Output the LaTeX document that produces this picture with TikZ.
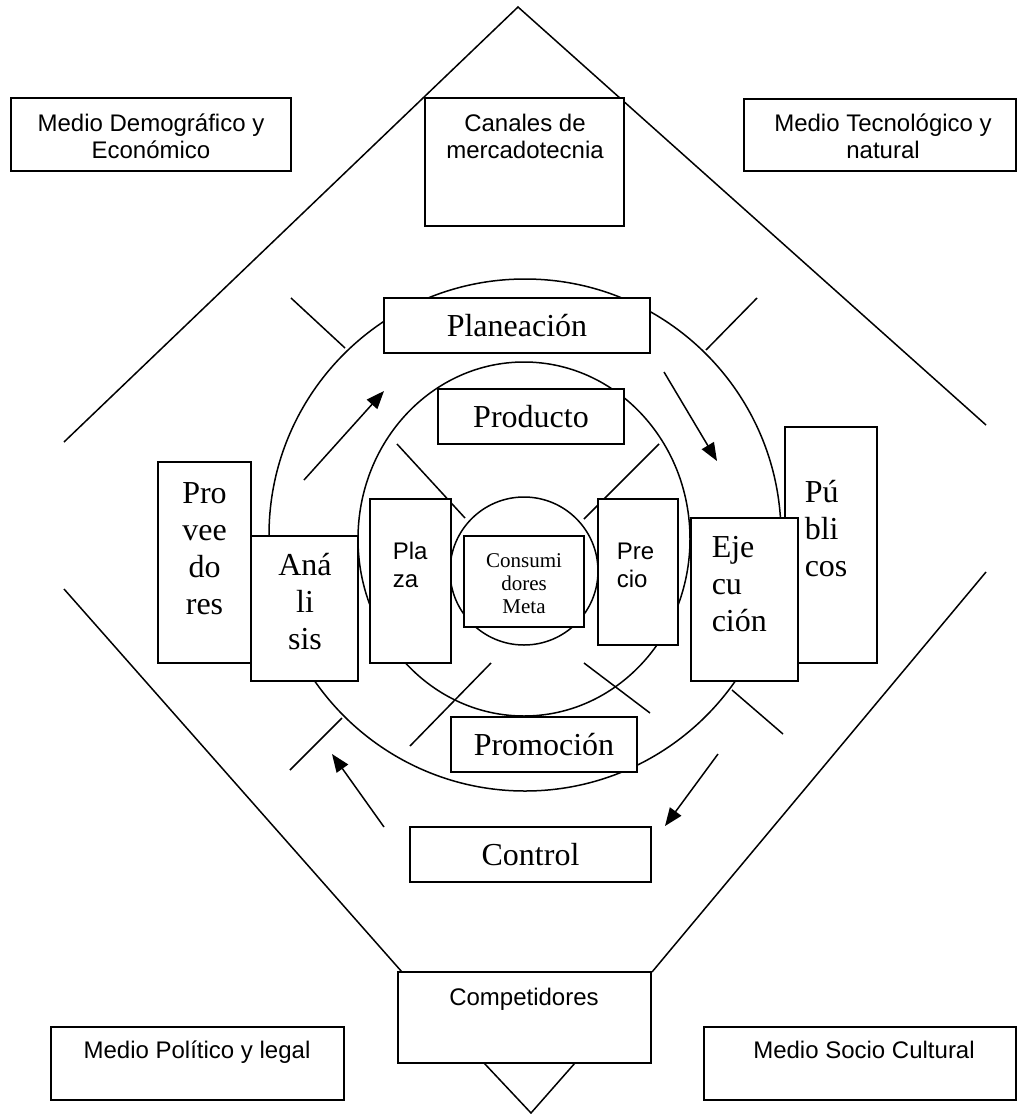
\documentclass[tikz,border=0pt]{standalone}
\usepackage{fontspec}
\setmainfont{Liberation Serif}
\newfontfamily\arial{Liberation Sans}
\usetikzlibrary{arrows.meta}

\begin{document}
\begin{tikzpicture}[x=1pt,y=-1pt,line width=1.5pt,
  caja/.style={draw,fill=white,inner sep=0pt},
  medio/.style={font=\arial\fontsize{24}{27}\selectfont,align=center,inner sep=0pt},
  mezcla/.style={font=\arial\fontsize{24}{28}\selectfont,align=left,inner sep=0pt},
  romana/.style={font=\fontsize{32}{37}\selectfont,align=center,inner sep=0pt},
  flecha/.style={-{Triangle[length=18pt,width=14pt]}}]
  \useasboundingbox (0,0) rectangle (1017,1114);
  % rombo exterior
  \draw (64,442) -- (518,7) -- (986,425);
  \draw (64,589) -- (402,972);
  \draw (986,572) -- (652,972);
  \draw (484,1063) -- (531,1113) -- (575,1063);
  % circulos
  \draw (525,535) circle (256);
  \draw (524,539) ellipse [x radius=166,y radius=177];
  \draw (524,571) circle (74);
  \draw (291,298) -- (345,348); \draw (757,298) -- (706,350);
  \draw (342,718) -- (290,770); \draw (732,690) -- (783,734);
  \draw (397,444) -- (465,518); \draw (659,444) -- (584,519);
  \draw (491,663) -- (410,746); \draw (584,663) -- (650,713);
  % cajas
  \node[caja,minimum width=280,minimum height=73] (demog) at (151,134.5) {};
  \node[caja,minimum width=199,minimum height=128] (canales) at (524.5,162) {};
  \node[caja,minimum width=272,minimum height=72] (tecno) at (880,135) {};
  \node[caja,minimum width=253,minimum height=91] (compet) at (524.5,1017.5) {};
  \node[caja,minimum width=293,minimum height=73] (politico) at (197.5,1063.5) {};
  \node[caja,minimum width=312,minimum height=73] (socio) at (860,1063.5) {};
  \node[medio,anchor=base] (demogT) at (151,158) {Medio Demográfico y\\Económico};
  \node[medio,anchor=base] (canalesT) at (525,158) {Canales de\\mercadotecnia};
  \node[medio,anchor=base] (tecnoT) at (883,158) {Medio Tecnológico y\\natural};
  \node[medio,anchor=base] (competT) at (524,1005) {Competidores};
  \node[medio,anchor=base] (politicoT) at (197,1058) {Medio Político y legal};
  \node[medio,anchor=base] (socioT) at (864,1058) {Medio Socio Cultural};
  \node[caja,romana,minimum width=266,minimum height=55] (planea) at (517,325.5) {Planeación};
  \node[caja,romana,minimum width=186,minimum height=55] (producto) at (531,416.5) {Producto};
  \node[caja,romana,minimum width=186,minimum height=55] (promo) at (544,744.5) {Promoción};
  \node[caja,romana,minimum width=241,minimum height=55] (control) at (530.5,854.5) {Control};
  \node[caja,minimum width=93,minimum height=201] (prov) at (204.5,562.5) {};
  \node[caja,minimum width=107,minimum height=145] (anal) at (304.5,608.5) {};
  \node[caja,minimum width=81,minimum height=164] (plaza) at (410.5,581) {};
  \node[caja,minimum width=120,minimum height=91] (consum) at (524,581.5) {};
  \node[caja,minimum width=80,minimum height=146] (precio) at (638,572) {};
  \node[caja,minimum width=92,minimum height=236] (publ) at (831,545) {};
  \node[caja,minimum width=107,minimum height=163] (ejec) at (744.5,599.5) {};
  \node[romana,anchor=base] (provT) at (204.5,614) {Pro\\vee\\do\\res};
  \node[romana,anchor=base] (analT) at (305,649) {Aná\\li\\sis};
  \node[mezcla,anchor=base west] (plazaT) at (392,587) {Pla\\za};
  \node[align=center,inner sep=0pt,font=\fontsize{21}{23}\selectfont,anchor=base] (consumT) at (524,613) {Consumi\\dores\\Meta};
  \node[mezcla,anchor=base west] (precioT) at (616,587) {Pre\\cio};
  \node[romana,align=left,anchor=base west] (ejecT) at (711,631) {Eje\\cu\\ción};
  \node[romana,align=left,anchor=base west] (publT) at (804,576) {Pú\\bli\\cos};
  % flechas del ciclo
  \coordinate (f1) at (304,480); \coordinate (f2) at (384,391);
  \coordinate (f3) at (664,372); \coordinate (f4) at (717,461);
  \coordinate (f5) at (718,754); \coordinate (f6) at (665,826);
  \coordinate (f7) at (384,827); \coordinate (f8) at (332,754);
  \draw[flecha] (f1) -- (f2);
  \draw[flecha] (f3) -- (f4);
  \draw[flecha] (f5) -- (f6);
  \draw[flecha] (f7) -- (f8);
\end{tikzpicture}
\end{document}
